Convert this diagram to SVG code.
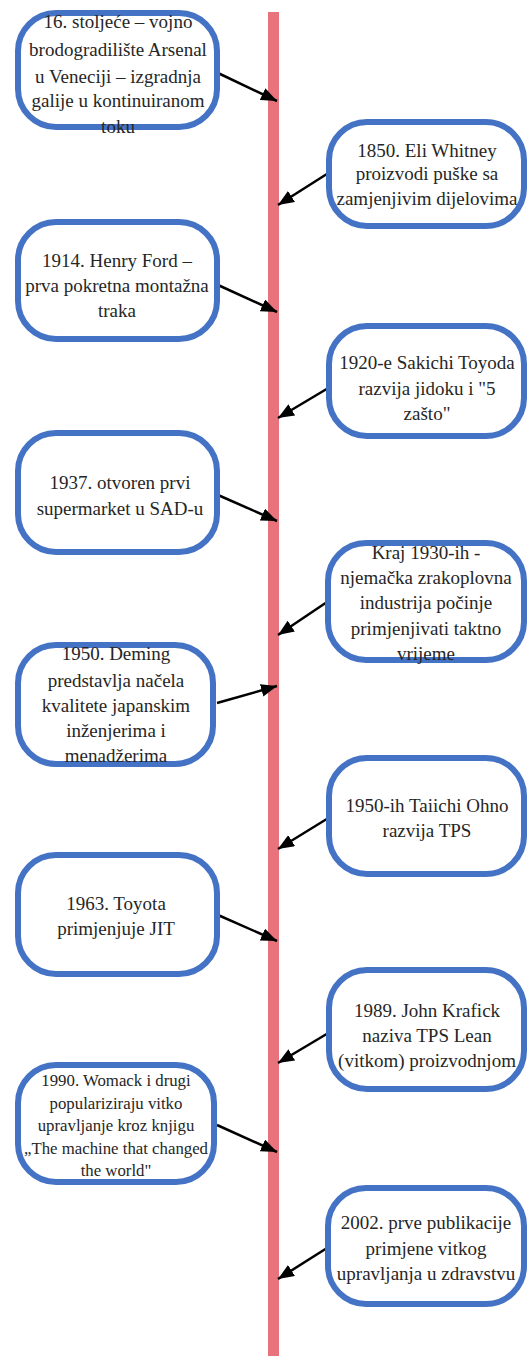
<svg xmlns="http://www.w3.org/2000/svg" width="528" height="1356" viewBox="0 0 528 1356">
<style>
.box{fill:#fff;stroke:#4472c4;stroke-width:6}
.t{font-family:"Liberation Serif","Times New Roman",serif;font-size:19px;fill:#262626;text-anchor:middle}
.s{font-size:16.8px}
.arr{stroke:#000;stroke-width:2.5;fill:none;marker-end:url(#ah)}
</style>
<defs>
<marker id="ah" markerUnits="userSpaceOnUse" markerWidth="17" markerHeight="13" refX="16" refY="6.5" orient="auto">
<path d="M0,0 L16,6.5 L0,13 z" fill="#000"/>
</marker>
</defs>
<rect id="timeline" x="268" y="12" width="11" height="1344" fill="#e8737c"/>
<g id="connectors">
<line class="arr" x1="218" y1="73" x2="277" y2="101"/>
<line class="arr" x1="330" y1="172" x2="278" y2="205"/>
<line class="arr" x1="218" y1="285" x2="277" y2="312"/>
<line class="arr" x1="330" y1="387" x2="278" y2="418"/>
<line class="arr" x1="218" y1="495" x2="277" y2="521"/>
<line class="arr" x1="327" y1="602" x2="278" y2="635"/>
<line class="arr" x1="217" y1="703" x2="277" y2="686"/>
<line class="arr" x1="330" y1="817" x2="278" y2="849"/>
<line class="arr" x1="218" y1="915" x2="277" y2="941"/>
<line class="arr" x1="330" y1="1032" x2="278" y2="1063"/>
<line class="arr" x1="217" y1="1125" x2="277" y2="1152"/>
<line class="arr" x1="327" y1="1248" x2="278" y2="1279"/>
</g>
<g id="n1"><rect class="box" x="18" y="13" width="199" height="114" rx="38"/>
<text class="t" x="118" y="28">16. stoljeće – vojno</text>
<text class="t" x="118" y="56">brodogradilište Arsenal</text>
<text class="t" x="118" y="83">u Veneciji – izgradnja</text>
<text class="t" x="118" y="107">galije u kontinuiranom</text>
<text class="t" x="118" y="133">toku</text></g>
<g id="n2"><rect class="box" x="329" y="122" width="195" height="104" rx="38"/>
<text class="t" x="427" y="157">1850. Eli Whitney</text>
<text class="t" x="427" y="180">proizvodi puške sa</text>
<text class="t" x="427" y="205">zamjenjivim dijelovima</text></g>
<g id="n3"><rect class="box" x="18" y="222" width="199" height="117" rx="38"/>
<text class="t" x="117" y="267">1914. Henry Ford –</text>
<text class="t" x="117" y="292">prva pokretna montažna</text>
<text class="t" x="117" y="317">traka</text></g>
<g id="n4"><rect class="box" x="329" y="326" width="195" height="110" rx="38"/>
<text class="t" x="427" y="369">1920-e Sakichi Toyoda</text>
<text class="t" x="427" y="395">razvija jidoku i "5</text>
<text class="t" x="427" y="420">zašto"</text></g>
<g id="n5"><rect class="box" x="18" y="433" width="199" height="119" rx="38"/>
<text class="t" x="120" y="489">1937. otvoren prvi</text>
<text class="t" x="120" y="515">supermarket u SAD-u</text></g>
<g id="n6"><rect class="box" x="328" y="543" width="196" height="117" rx="38"/>
<text class="t" x="426" y="559">Kraj 1930-ih -</text>
<text class="t" x="426" y="584">njemačka zrakoplovna</text>
<text class="t" x="426" y="609">industrija počinje</text>
<text class="t" x="426" y="635">primjenjivati taktno</text>
<text class="t" x="426" y="660">vrijeme</text></g>
<g id="n7"><rect class="box" x="18" y="645" width="195" height="119" rx="38"/>
<text class="t" x="116" y="660">1950. Deming</text>
<text class="t" x="116" y="687">predstavlja načela</text>
<text class="t" x="116" y="712">kvalitete japanskim</text>
<text class="t" x="116" y="737">inženjerima i</text>
<text class="t" x="116" y="762">menadžerima</text></g>
<g id="n8"><rect class="box" x="329" y="758" width="195" height="116" rx="38"/>
<text class="t" x="427" y="812">1950-ih Taiichi Ohno</text>
<text class="t" x="427" y="837">razvija TPS</text></g>
<g id="n9"><rect class="box" x="18" y="855" width="199" height="119" rx="38"/>
<text class="t" x="116" y="910">1963. Toyota</text>
<text class="t" x="116" y="935">primjenjuje JIT</text></g>
<g id="n10"><rect class="box" x="329" y="970" width="195" height="119" rx="38"/>
<text class="t" x="427" y="1017">1989. John Krafick</text>
<text class="t" x="427" y="1042">naziva TPS Lean</text>
<text class="t" x="427" y="1067">(vitkom) proizvodnjom</text></g>
<g id="n11"><rect class="box" x="18" y="1065" width="196" height="117" rx="38"/>
<text class="t s" x="116" y="1086">1990. Womack i drugi</text>
<text class="t s" x="116" y="1109">populariziraju vitko</text>
<text class="t s" x="116" y="1131">upravljanje kroz knjigu</text>
<text class="t s" x="116" y="1154">„The machine that changed</text>
<text class="t s" x="116" y="1176">the world"</text></g>
<g id="n12"><rect class="box" x="328" y="1188" width="196" height="116" rx="38"/>
<text class="t" x="426" y="1229">2002. prve publikacije</text>
<text class="t" x="426" y="1255">primjene vitkog</text>
<text class="t" x="426" y="1280">upravljanja u zdravstvu</text></g>
</svg>
